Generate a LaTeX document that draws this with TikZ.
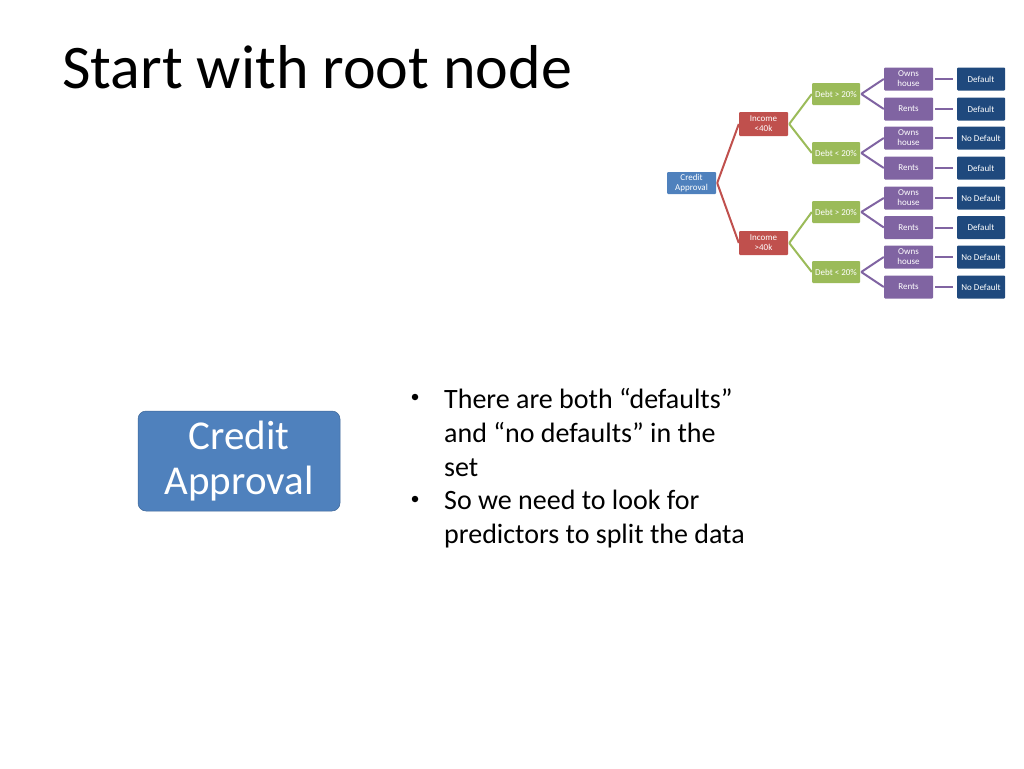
\documentclass[tikz,border=0pt]{standalone}
\usepackage{fontspec}
\setmainfont{Carlito}
\definecolor{cred}{HTML}{C0504D}
\definecolor{cgreen}{HTML}{9BBB59}
\definecolor{cpurple}{HTML}{8064A2}
\definecolor{cdark}{HTML}{1F497D}
\definecolor{cblue}{HTML}{4F81BD}
\begin{document}
\begin{tikzpicture}[x=1pt,y=-1pt,
  sbox/.style={rectangle, rounded corners=1pt, inner sep=0pt, minimum width=48pt, minimum height=22pt, text=white, align=center, font=\fontsize{9}{10}\selectfont},
  rootbox/.style={sbox, fill=cblue, minimum width=49pt},
  incbox/.style={sbox, fill=cred, minimum width=49pt, minimum height=24pt},
  debtbox/.style={sbox, fill=cgreen},
  housebox/.style={sbox, fill=cpurple, minimum width=49pt, minimum height=23pt},
  leafbox/.style={sbox, fill=cdark, minimum height=23pt},
  rline/.style={draw=cred, line width=2pt},
  gline/.style={draw=cgreen, line width=2pt},
  pline/.style={draw=cpurple, line width=2pt},
  lline/.style={draw=cpurple, line width=2pt, shorten <=2pt, shorten >=4pt},
  bigbox/.style={rectangle, rounded corners=8pt, fill=cblue, draw=cblue!80!black, line width=0.5pt, minimum width=202pt, minimum height=100pt, text=white, align=center, inner sep=0pt, font=\fontsize{41}{45}\selectfont},
  bullettext/.style={anchor=north west, align=left, inner sep=0pt, font=\fontsize{28}{34}\selectfont},
  bulletdot/.style={circle, fill=black, inner sep=0pt, minimum size=6.5pt}
]
\useasboundingbox (0,0) rectangle (1024,768);

% title
\node[anchor=base west, inner sep=0pt, font=\fontsize{62}{74}\selectfont] (title) at (62,88) {Start with root node};

% small tree
\node[rootbox] (root) at (691.5,183) {Credit\\Approval};
\node[incbox] (i1) at (763.5,124) {Income\\<40k};
\node[incbox] (i2) at (763.5,243) {Income\\>40k};
\node[debtbox] (d1) at (836,94) {Debt > 20\%};
\node[debtbox] (d2) at (836,153) {Debt < 20\%};
\node[debtbox] (d3) at (836,212) {Debt > 20\%};
\node[debtbox] (d4) at (836,272) {Debt < 20\%};
\node[housebox] (h1) at (908.5,79) {Owns\\house};
\node[housebox] (h2) at (908.5,109) {Rents};
\node[housebox] (h3) at (908.5,138) {Owns\\house};
\node[housebox] (h4) at (908.5,168) {Rents};
\node[housebox] (h5) at (908.5,198) {Owns\\house};
\node[housebox] (h6) at (908.5,227.5) {Rents};
\node[housebox] (h7) at (908.5,257) {Owns\\house};
\node[housebox] (h8) at (908.5,287) {Rents};
\node[leafbox] (l1) at (981,79) {Default};
\node[leafbox] (l2) at (981,109) {Default};
\node[leafbox] (l3) at (981,138) {No Default};
\node[leafbox] (l4) at (981,168) {Default};
\node[leafbox] (l5) at (981,198) {No Default};
\node[leafbox] (l6) at (981,227.5) {Default};
\node[leafbox] (l7) at (981,257) {No Default};
\node[leafbox] (l8) at (981,287) {No Default};

\draw[rline] ([xshift=1pt]root.east) -- (i1.west);
\draw[rline] ([xshift=1pt]root.east) -- (i2.west);
\draw[gline] ([xshift=1pt]i1.east) -- (d1.west);
\draw[gline] ([xshift=1pt]i1.east) -- (d2.west);
\draw[gline] ([xshift=1pt]i2.east) -- (d3.west);
\draw[gline] ([xshift=1pt]i2.east) -- (d4.west);
\draw[pline] ([xshift=1pt]d1.east) -- (h1.west);
\draw[pline] ([xshift=1pt]d1.east) -- (h2.west);
\draw[pline] ([xshift=1pt]d2.east) -- (h3.west);
\draw[pline] ([xshift=1pt]d2.east) -- (h4.west);
\draw[pline] ([xshift=1pt]d3.east) -- (h5.west);
\draw[pline] ([xshift=1pt]d3.east) -- (h6.west);
\draw[pline] ([xshift=1pt]d4.east) -- (h7.west);
\draw[pline] ([xshift=1pt]d4.east) -- (h8.west);
\foreach \k in {1,...,8}{\draw[lline] (h\k.east) -- (l\k.west);}

% big root node
\node[bigbox] (big) at (239,461) {Credit\\Approval};

% bullets
\node[bullettext] (b1) at (444,388) {There are both “defaults”\\and “no defaults” in the\\set};
\node[bullettext] (b2) at (444,490) {So we need to look for\\predictors to split the data};
\node[bulletdot] (bu1) at (415,397) {};
\node[bulletdot] (bu2) at (415,499) {};
\end{tikzpicture}
\end{document}
